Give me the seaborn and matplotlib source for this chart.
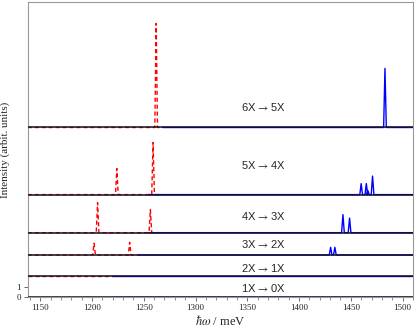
import numpy as np
import pandas as pd
import matplotlib
matplotlib.use('Agg')
import matplotlib.pyplot as plt
from matplotlib.ticker import MultipleLocator
import seaborn as sns

# transition rows, bottom to top
transitions = ['1X', '2X', '3X', '4X', '5X', '6X']
final_states = ['0X', '1X', '2X', '3X', '4X', '5X']
offsets = [0.0, 2.07, 4.17, 6.4, 10.2, 16.9]
label_y = [0.87, 2.9, 5.3, 8.07, 13.2, 18.9]

# red (dashed) peaks: positions in meV, heights in arbit. units
red_pos = [[], [], [1202, 1236.4], [1205.4, 1256.4], [1224, 1259], [1262]]
red_amp = [[], [], [1.17, 1.27], [3.0, 2.3], [2.6, 5.2], [10.4]]
red_span = [1138, 1220, 1245, 1265, 1265, 1268]

# blue (solid) peaks
blue_pos = [[], [], [1430.5, 1434.6], [1442.4, 1448.8], [1460, 1465, 1466.5, 1471], [1483]]
blue_amp = [[], [], [0.77, 0.77], [1.8, 1.45], [1.1, 1.1, 0.4, 1.85], [5.9]]
blue_span = [1220, 1220, 1245, 1255, 1255, 1268]

xmin, xmax = 1138, 1510
half_width = 1.3


def spectrum(pos, amp, start, stop, base):
    xs, ys = [start], [base]
    for p, a in sorted(zip(pos, amp)):
        xs += [p - half_width, p, p + half_width]
        ys += [base, base + a, base]
    xs.append(stop)
    ys.append(base)
    return xs, ys


sns.set_style('ticks')
plt.rcParams['font.family'] = ['Liberation Serif', 'DejaVu Serif']
plt.rcParams['mathtext.fontset'] = 'stix'

fig = plt.figure(figsize=(4.15, 3.29), dpi=100)
ax = fig.add_axes([0.067, 0.098, 0.928, 0.895])

for i, (a, b) in enumerate(zip(transitions, final_states)):
    base = offsets[i]
    ax.axhline(base, color='#111122', lw=1.1, zorder=3)
    rx, ry = spectrum(red_pos[i], red_amp[i], xmin, red_span[i], base)
    bx, by = spectrum(blue_pos[i], blue_amp[i], blue_span[i], xmax, base)
    sns.lineplot(x=rx, y=ry, sort=False, estimator=None, color='red',
                 lw=1.0, ax=ax, zorder=2).lines[-1].set_dashes([3, 2])
    sns.lineplot(x=bx, y=by, sort=False, estimator=None, color='blue',
                 lw=1.0, ax=ax, zorder=2)
    ax.text(1366, label_y[i], a + r'$\,\rightarrow\,$' + b, ha='center', va='center',
            fontsize=8, family=['Liberation Sans', 'DejaVu Sans'])

ax.set_xlim(xmin, xmax)
ax.set_ylim(0, 29.4)
ax.xaxis.set_major_locator(MultipleLocator(50))
ax.xaxis.set_minor_locator(MultipleLocator(10))
ax.set_yticks([0, 1])
ax.tick_params(axis='both', labelsize=6.5, length=3, width=0.6, color='#555555', pad=2)
ax.tick_params(axis='x', which='minor', length=1.8, width=0.5, color='#555555')
for s in ax.spines.values():
    s.set_color('#999999')
    s.set_linewidth(0.8)

ax.set_xlabel(r'$\hbar\omega$ / meV', fontsize=9, labelpad=2)
ax.set_ylabel('Intensity (arbit. units)', fontsize=8, labelpad=2)
ax.yaxis.set_label_coords(-0.045, 0.5)

fig.savefig('out.png', dpi=100)
